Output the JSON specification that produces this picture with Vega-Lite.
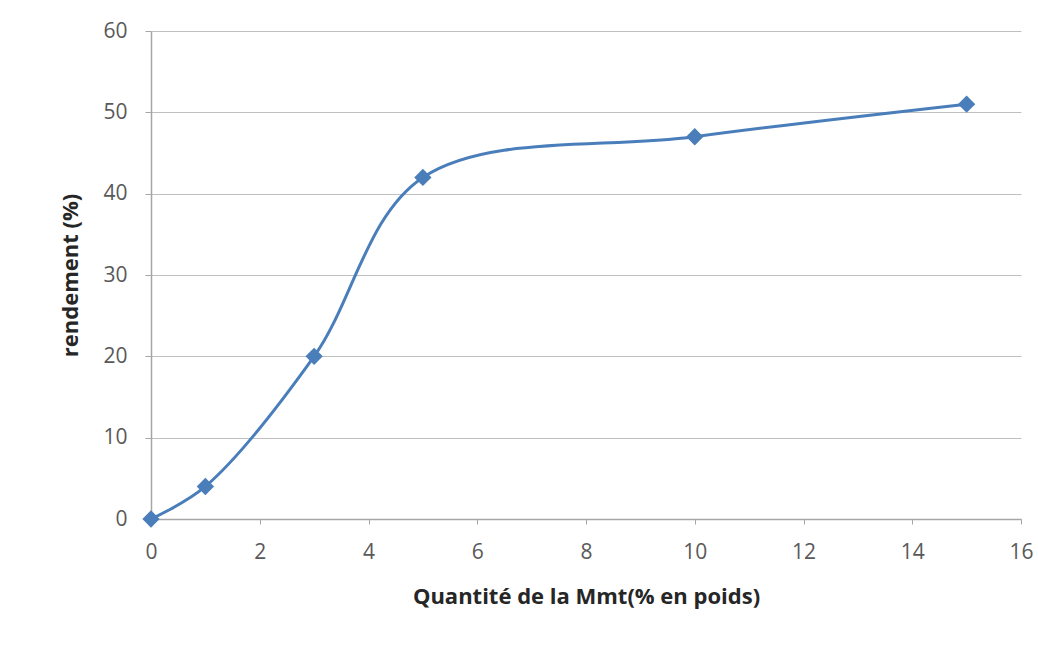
{
  "$schema": "https://vega.github.io/schema/vega-lite/v6.json",
  "width": 870,
  "height": 488,
  "autosize": {"type": "none"},
  "padding": {"left": 151, "top": 31, "right": 17, "bottom": 137},
  "background": "white",
  "config": {
    "view": {"stroke": null},
    "font": "Open Sans",
    "axis": {
      "labelFont": "Open Sans",
      "labelFontSize": 21,
      "labelColor": "#595959",
      "labelFlush": false,
      "titleFont": "Open Sans",
      "titleFontSize": 22,
      "titleFontWeight": "bold",
      "titleColor": "#262626",
      "domainColor": "#a6a6a6",
      "tickColor": "#a6a6a6",
      "gridColor": "#bfbfbf",
      "domainWidth": 1.5,
      "gridWidth": 1.2
    }
  },
  "data": {
    "values": [
      {"q": 0, "r": 0},
      {"q": 1, "r": 4},
      {"q": 3, "r": 20},
      {"q": 5, "r": 42},
      {"q": 10, "r": 47},
      {"q": 15, "r": 51}
    ]
  },
  "encoding": {
    "x": {
      "field": "q",
      "type": "quantitative",
      "scale": {"domain": [0, 16], "nice": false},
      "axis": {
        "title": "Quantité de la Mmt(% en poids)",
        "values": [0, 2, 4, 6, 8, 10, 12, 14, 16],
        "grid": false,
        "tickSize": 5,
        "labelPadding": 17,
        "titlePadding": 24
      }
    },
    "y": {
      "field": "r",
      "type": "quantitative",
      "scale": {"domain": [0, 60], "nice": false},
      "axis": {
        "title": "rendement (%)",
        "values": [0, 10, 20, 30, 40, 50, 60],
        "grid": true,
        "tickSize": 6,
        "labelPadding": 18,
        "titlePadding": 20
      }
    }
  },
  "layer": [
    {
      "mark": {"type": "line", "interpolate": "catmull-rom", "color": "#4a7ebb", "strokeWidth": 3}
    },
    {
      "mark": {"type": "point", "shape": "diamond", "filled": true, "color": "#4a7ebb", "opacity": 1, "size": 300}
    }
  ]
}
